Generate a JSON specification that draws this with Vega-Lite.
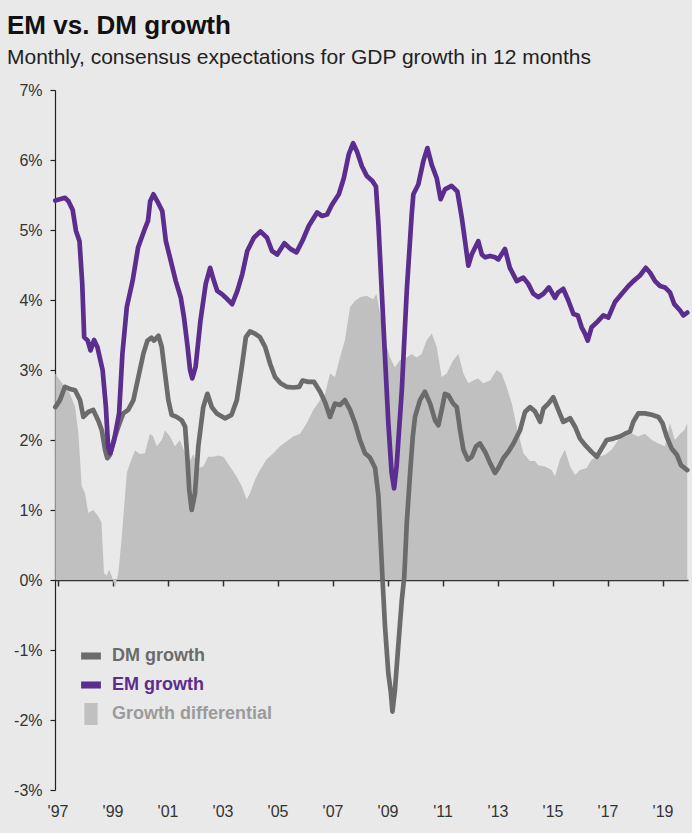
{
 "$schema": "https://vega.github.io/schema/vega-lite/v6.json",
 "width": 633, "height": 700,
 "autosize": {"type": "none"},
 "padding": {"left": 55, "top": 90, "right": 4, "bottom": 43},
 "background": "#e9e9e9",
 "config": {"view": {"stroke": null}, "font": "Liberation Sans"},
 "title": {"text": "EM vs. DM growth", "subtitle": "Monthly, consensus expectations for GDP growth in 12 months", "anchor": "start", "frame": "group", "dx": -48, "fontSize": 26, "fontWeight": "bold", "color": "#111111", "subtitleFontSize": 21, "subtitleColor": "#222222", "subtitlePadding": 8, "offset": 14, "font": "Liberation Sans", "subtitleFont": "Liberation Sans"},
 "datasets": {
  "em": [
   {"t":1996.92,"v":5.42},{"t":1997.27,"v":5.46},{"t":1997.40,"v":5.41},{"t":1997.55,"v":5.29},{"t":1997.67,"v":4.99},{"t":1997.80,"v":4.84},{"t":1997.90,"v":4.23},{"t":1997.97,"v":3.47},{"t":1998.10,"v":3.42},{"t":1998.20,"v":3.28},{"t":1998.33,"v":3.43},{"t":1998.45,"v":3.33},{"t":1998.64,"v":3.00},{"t":1998.76,"v":2.47},{"t":1998.84,"v":1.90},{"t":1998.92,"v":1.81},{"t":1999.06,"v":2.00},{"t":1999.24,"v":2.38},{"t":1999.36,"v":3.23},{"t":1999.52,"v":3.90},{"t":1999.73,"v":4.27},{"t":1999.93,"v":4.75},{"t":2000.15,"v":4.99},{"t":2000.29,"v":5.13},{"t":2000.37,"v":5.41},{"t":2000.49,"v":5.51},{"t":2000.63,"v":5.41},{"t":2000.81,"v":5.27},{"t":2000.94,"v":4.84},{"t":2001.12,"v":4.56},{"t":2001.30,"v":4.27},{"t":2001.48,"v":4.04},{"t":2001.60,"v":3.75},{"t":2001.73,"v":3.33},{"t":2001.82,"v":3.00},{"t":2001.90,"v":2.88},{"t":2002.02,"v":3.04},{"t":2002.20,"v":3.71},{"t":2002.39,"v":4.23},{"t":2002.55,"v":4.46},{"t":2002.69,"v":4.27},{"t":2002.81,"v":4.13},{"t":2002.99,"v":4.08},{"t":2003.10,"v":4.04},{"t":2003.35,"v":3.94},{"t":2003.54,"v":4.13},{"t":2003.72,"v":4.37},{"t":2003.90,"v":4.70},{"t":2004.14,"v":4.89},{"t":2004.38,"v":4.98},{"t":2004.62,"v":4.89},{"t":2004.80,"v":4.70},{"t":2004.99,"v":4.65},{"t":2005.25,"v":4.81},{"t":2005.47,"v":4.73},{"t":2005.69,"v":4.68},{"t":2005.90,"v":4.84},{"t":2006.14,"v":5.06},{"t":2006.44,"v":5.25},{"t":2006.62,"v":5.20},{"t":2006.80,"v":5.22},{"t":2006.98,"v":5.36},{"t":2007.23,"v":5.51},{"t":2007.41,"v":5.74},{"t":2007.59,"v":6.08},{"t":2007.75,"v":6.24},{"t":2007.89,"v":6.12},{"t":2008.07,"v":5.91},{"t":2008.25,"v":5.77},{"t":2008.45,"v":5.70},{"t":2008.58,"v":5.62},{"t":2008.67,"v":5.08},{"t":2008.79,"v":4.13},{"t":2008.91,"v":3.18},{"t":2009.03,"v":2.24},{"t":2009.15,"v":1.53},{"t":2009.24,"v":1.31},{"t":2009.33,"v":1.62},{"t":2009.52,"v":2.71},{"t":2009.70,"v":4.13},{"t":2009.88,"v":5.22},{"t":2009.94,"v":5.51},{"t":2010.12,"v":5.65},{"t":2010.30,"v":5.98},{"t":2010.45,"v":6.17},{"t":2010.61,"v":5.93},{"t":2010.79,"v":5.74},{"t":2010.93,"v":5.44},{"t":2011.09,"v":5.58},{"t":2011.33,"v":5.63},{"t":2011.54,"v":5.55},{"t":2011.70,"v":5.18},{"t":2011.82,"v":4.84},{"t":2011.94,"v":4.49},{"t":2012.06,"v":4.65},{"t":2012.30,"v":4.84},{"t":2012.43,"v":4.65},{"t":2012.55,"v":4.61},{"t":2012.73,"v":4.63},{"t":2012.91,"v":4.61},{"t":2013.03,"v":4.58},{"t":2013.27,"v":4.73},{"t":2013.45,"v":4.46},{"t":2013.70,"v":4.27},{"t":2013.94,"v":4.32},{"t":2014.12,"v":4.23},{"t":2014.30,"v":4.09},{"t":2014.48,"v":4.04},{"t":2014.67,"v":4.09},{"t":2014.87,"v":4.18},{"t":2015.09,"v":4.03},{"t":2015.21,"v":4.11},{"t":2015.39,"v":4.16},{"t":2015.58,"v":3.99},{"t":2015.76,"v":3.80},{"t":2015.92,"v":3.78},{"t":2016.06,"v":3.61},{"t":2016.18,"v":3.52},{"t":2016.28,"v":3.42},{"t":2016.42,"v":3.61},{"t":2016.61,"v":3.68},{"t":2016.85,"v":3.78},{"t":2017.03,"v":3.75},{"t":2017.27,"v":3.97},{"t":2017.52,"v":4.09},{"t":2017.76,"v":4.20},{"t":2017.94,"v":4.27},{"t":2018.18,"v":4.35},{"t":2018.39,"v":4.46},{"t":2018.55,"v":4.39},{"t":2018.73,"v":4.27},{"t":2018.91,"v":4.20},{"t":2019.09,"v":4.18},{"t":2019.27,"v":4.11},{"t":2019.43,"v":3.94},{"t":2019.64,"v":3.85},{"t":2019.76,"v":3.78},{"t":2019.90,"v":3.82}
  ],
  "dm": [
   {"t":1996.92,"v":2.47},{"t":1997.09,"v":2.57},{"t":1997.27,"v":2.76},{"t":1997.45,"v":2.73},{"t":1997.64,"v":2.71},{"t":1997.82,"v":2.57},{"t":1997.94,"v":2.33},{"t":1998.12,"v":2.40},{"t":1998.30,"v":2.43},{"t":1998.48,"v":2.28},{"t":1998.61,"v":2.14},{"t":1998.73,"v":1.86},{"t":1998.81,"v":1.74},{"t":1998.91,"v":1.79},{"t":1999.05,"v":2.00},{"t":1999.21,"v":2.19},{"t":1999.39,"v":2.38},{"t":1999.57,"v":2.43},{"t":1999.76,"v":2.57},{"t":1999.94,"v":2.90},{"t":2000.12,"v":3.23},{"t":2000.27,"v":3.42},{"t":2000.42,"v":3.46},{"t":2000.51,"v":3.42},{"t":2000.67,"v":3.49},{"t":2000.79,"v":3.33},{"t":2000.91,"v":2.95},{"t":2001.03,"v":2.57},{"t":2001.15,"v":2.36},{"t":2001.33,"v":2.33},{"t":2001.52,"v":2.28},{"t":2001.64,"v":2.19},{"t":2001.72,"v":1.76},{"t":2001.79,"v":1.29},{"t":2001.88,"v":1.00},{"t":2002.00,"v":1.24},{"t":2002.12,"v":1.91},{"t":2002.30,"v":2.47},{"t":2002.45,"v":2.66},{"t":2002.61,"v":2.47},{"t":2002.79,"v":2.38},{"t":2003.09,"v":2.31},{"t":2003.33,"v":2.36},{"t":2003.52,"v":2.57},{"t":2003.70,"v":3.04},{"t":2003.85,"v":3.47},{"t":2004.00,"v":3.55},{"t":2004.18,"v":3.52},{"t":2004.36,"v":3.47},{"t":2004.55,"v":3.33},{"t":2004.73,"v":3.09},{"t":2004.91,"v":2.90},{"t":2005.11,"v":2.81},{"t":2005.33,"v":2.76},{"t":2005.57,"v":2.75},{"t":2005.79,"v":2.76},{"t":2005.91,"v":2.85},{"t":2006.12,"v":2.83},{"t":2006.33,"v":2.83},{"t":2006.55,"v":2.69},{"t":2006.73,"v":2.54},{"t":2006.91,"v":2.33},{"t":2007.09,"v":2.52},{"t":2007.27,"v":2.50},{"t":2007.45,"v":2.57},{"t":2007.64,"v":2.43},{"t":2007.82,"v":2.24},{"t":2008.00,"v":2.00},{"t":2008.18,"v":1.81},{"t":2008.36,"v":1.75},{"t":2008.55,"v":1.60},{"t":2008.67,"v":1.20},{"t":2008.75,"v":0.57},{"t":2008.82,"v":0.00},{"t":2008.91,"v":-0.67},{"t":2009.03,"v":-1.33},{"t":2009.12,"v":-1.60},{"t":2009.18,"v":-1.88},{"t":2009.27,"v":-1.57},{"t":2009.39,"v":-0.95},{"t":2009.52,"v":-0.29},{"t":2009.61,"v":0.05},{"t":2009.70,"v":0.81},{"t":2009.82,"v":1.52},{"t":2009.92,"v":2.05},{"t":2010.00,"v":2.33},{"t":2010.18,"v":2.57},{"t":2010.36,"v":2.69},{"t":2010.55,"v":2.52},{"t":2010.73,"v":2.28},{"t":2010.85,"v":2.21},{"t":2010.97,"v":2.43},{"t":2011.09,"v":2.66},{"t":2011.21,"v":2.64},{"t":2011.39,"v":2.52},{"t":2011.52,"v":2.47},{"t":2011.64,"v":2.14},{"t":2011.76,"v":1.86},{"t":2011.92,"v":1.72},{"t":2012.06,"v":1.76},{"t":2012.22,"v":1.91},{"t":2012.36,"v":1.95},{"t":2012.55,"v":1.83},{"t":2012.73,"v":1.67},{"t":2012.91,"v":1.53},{"t":2013.03,"v":1.60},{"t":2013.21,"v":1.74},{"t":2013.39,"v":1.83},{"t":2013.58,"v":1.95},{"t":2013.82,"v":2.14},{"t":2014.00,"v":2.40},{"t":2014.18,"v":2.47},{"t":2014.36,"v":2.41},{"t":2014.55,"v":2.26},{"t":2014.67,"v":2.45},{"t":2014.85,"v":2.52},{"t":2015.03,"v":2.61},{"t":2015.21,"v":2.43},{"t":2015.39,"v":2.26},{"t":2015.64,"v":2.31},{"t":2015.82,"v":2.19},{"t":2016.00,"v":2.02},{"t":2016.18,"v":1.93},{"t":2016.42,"v":1.83},{"t":2016.61,"v":1.76},{"t":2016.79,"v":1.88},{"t":2016.97,"v":2.00},{"t":2017.21,"v":2.02},{"t":2017.45,"v":2.05},{"t":2017.64,"v":2.09},{"t":2017.82,"v":2.12},{"t":2017.94,"v":2.26},{"t":2018.12,"v":2.38},{"t":2018.36,"v":2.38},{"t":2018.61,"v":2.36},{"t":2018.85,"v":2.33},{"t":2019.00,"v":2.24},{"t":2019.15,"v":2.05},{"t":2019.33,"v":1.88},{"t":2019.52,"v":1.79},{"t":2019.67,"v":1.64},{"t":2019.90,"v":1.57}
  ],
  "diff": [
   {"t":1996.92,"v":2.95},{"t":1997.09,"v":2.85},{"t":1997.27,"v":2.76},{"t":1997.45,"v":2.66},{"t":1997.64,"v":2.47},{"t":1997.76,"v":2.09},{"t":1997.88,"v":1.34},{"t":1998.00,"v":1.24},{"t":1998.12,"v":0.96},{"t":1998.30,"v":1.00},{"t":1998.48,"v":0.91},{"t":1998.60,"v":0.82},{"t":1998.69,"v":0.10},{"t":1998.79,"v":0.06},{"t":1998.88,"v":0.15},{"t":1998.97,"v":0.06},{"t":1999.09,"v":-0.11},{"t":1999.21,"v":0.10},{"t":1999.33,"v":0.58},{"t":1999.52,"v":1.53},{"t":1999.64,"v":1.67},{"t":1999.82,"v":1.85},{"t":2000.00,"v":1.80},{"t":2000.18,"v":1.81},{"t":2000.36,"v":2.09},{"t":2000.48,"v":2.05},{"t":2000.61,"v":1.91},{"t":2000.79,"v":2.00},{"t":2000.91,"v":2.14},{"t":2001.09,"v":2.05},{"t":2001.27,"v":1.91},{"t":2001.45,"v":2.00},{"t":2001.64,"v":1.81},{"t":2001.82,"v":1.70},{"t":2001.94,"v":1.80},{"t":2002.12,"v":1.60},{"t":2002.30,"v":1.62},{"t":2002.48,"v":1.76},{"t":2002.67,"v":1.76},{"t":2002.85,"v":1.78},{"t":2003.03,"v":1.76},{"t":2003.27,"v":1.62},{"t":2003.51,"v":1.48},{"t":2003.70,"v":1.34},{"t":2003.88,"v":1.15},{"t":2004.00,"v":1.24},{"t":2004.18,"v":1.43},{"t":2004.36,"v":1.57},{"t":2004.60,"v":1.72},{"t":2004.85,"v":1.81},{"t":2005.09,"v":1.91},{"t":2005.33,"v":1.98},{"t":2005.57,"v":2.05},{"t":2005.82,"v":2.09},{"t":2006.06,"v":2.24},{"t":2006.30,"v":2.43},{"t":2006.55,"v":2.57},{"t":2006.73,"v":2.66},{"t":2006.91,"v":2.95},{"t":2007.09,"v":2.90},{"t":2007.27,"v":3.18},{"t":2007.45,"v":3.42},{"t":2007.64,"v":3.90},{"t":2007.82,"v":3.99},{"t":2008.00,"v":4.04},{"t":2008.24,"v":4.06},{"t":2008.48,"v":4.01},{"t":2008.60,"v":4.09},{"t":2008.73,"v":3.80},{"t":2008.91,"v":3.42},{"t":2009.09,"v":3.18},{"t":2009.27,"v":3.04},{"t":2009.45,"v":3.14},{"t":2009.70,"v":3.18},{"t":2009.88,"v":3.23},{"t":2010.06,"v":3.18},{"t":2010.24,"v":3.23},{"t":2010.42,"v":3.42},{"t":2010.61,"v":3.52},{"t":2010.79,"v":3.33},{"t":2010.97,"v":2.90},{"t":2011.15,"v":2.95},{"t":2011.39,"v":3.14},{"t":2011.58,"v":3.23},{"t":2011.76,"v":2.95},{"t":2011.94,"v":2.81},{"t":2012.12,"v":2.85},{"t":2012.30,"v":2.88},{"t":2012.48,"v":2.81},{"t":2012.73,"v":2.85},{"t":2012.97,"v":3.00},{"t":2013.15,"v":2.95},{"t":2013.33,"v":2.76},{"t":2013.52,"v":2.52},{"t":2013.70,"v":2.19},{"t":2013.94,"v":1.81},{"t":2014.18,"v":1.70},{"t":2014.36,"v":1.70},{"t":2014.48,"v":1.64},{"t":2014.73,"v":1.62},{"t":2014.97,"v":1.57},{"t":2015.09,"v":1.48},{"t":2015.27,"v":1.72},{"t":2015.45,"v":1.86},{"t":2015.64,"v":1.62},{"t":2015.82,"v":1.50},{"t":2016.00,"v":1.57},{"t":2016.24,"v":1.60},{"t":2016.42,"v":1.72},{"t":2016.67,"v":1.76},{"t":2016.91,"v":1.79},{"t":2017.15,"v":1.86},{"t":2017.39,"v":2.00},{"t":2017.64,"v":2.05},{"t":2017.88,"v":2.09},{"t":2018.12,"v":2.05},{"t":2018.36,"v":2.09},{"t":2018.61,"v":2.00},{"t":2018.85,"v":1.95},{"t":2019.09,"v":1.91},{"t":2019.27,"v":2.24},{"t":2019.45,"v":2.00},{"t":2019.64,"v":2.09},{"t":2019.79,"v":2.14},{"t":2019.90,"v":2.24}
  ]
 },
 "layer": [
  {
   "data": {"name": "diff"},
   "mark": {"type": "area", "interpolate": "linear"},
   "encoding": {
    "x": {"field": "t", "type": "quantitative",
      "scale": {"domain": [1996.909, 2019.927], "nice": false, "zero": false},
      "axis": {"values": [1997,1999,2001,2003,2005,2007,2009,2011,2013,2015,2017,2019], "labelExpr": "\"'\" + substring(toString(datum.value), 2, 4)", "offset": -210, "tickSize": 6, "tickWidth": 1.5, "tickColor": "#333333", "domainColor": "#333333", "domainWidth": 1.5, "labelPadding": 217, "labelFontSize": 16, "labelColor": "#333333", "labelFlush": false, "labelOverlap": false, "labelBound": false, "grid": false, "title": null}},
    "y": {"field": "v", "type": "quantitative",
      "scale": {"domain": [-3, 7], "nice": false, "zero": false},
      "axis": {"values": [-3,-2,-1,0,1,2,3,4,5,6,7], "labelExpr": "datum.value + '%'", "tickSize": 5, "tickWidth": 1.2, "tickColor": "#222222", "domainColor": "#222222", "domainWidth": 1.2, "labelPadding": 8, "labelFontSize": 16, "labelColor": "#333333", "labelFlush": false, "grid": false, "title": null}},
    "color": {"datum": "Growth differential", "type": "nominal",
      "scale": {"domain": ["DM growth", "EM growth", "Growth differential"], "range": ["#6b6b6b", "#5b2d8e", "#c0c0c0"]},
      "legend": {"orient": "none", "legendX": 25, "legendY": 555, "title": null, "padding": 0, "symbolSize": 484, "rowPadding": 9, "labelOffset": 10, "labelLimit": 400, "labelFontSize": 18, "labelFontWeight": "bold", "labelFont": "Liberation Sans",
        "encode": {
          "symbols": {"update": {
            "shape": {"signal": "datum.value === 'Growth differential' ? 'M-0.6,-1L0.6,-1L0.6,1L-0.6,1Z' : 'M-0.9,-0.32L0.9,-0.32L0.9,0.32L-0.9,0.32Z'"},
            "fill": {"signal": "datum.value === 'DM growth' ? '#6b6b6b' : datum.value === 'EM growth' ? '#5b2d8e' : '#a9a9a9'"},
            "stroke": {"value": "transparent"}, "strokeWidth": {"value": 0}, "opacity": {"value": 1}, "fillOpacity": {"value": 1}}},
          "labels": {"update": {
            "fill": {"signal": "datum.value === 'DM growth' ? '#6b6b6b' : datum.value === 'EM growth' ? '#5b2d8e' : '#9b9b9b'"}}}
        }}}
   }
  },
  {
   "data": {"name": "dm"},
   "mark": {"type": "line", "strokeWidth": 4.7, "strokeJoin": "round", "strokeCap": "round"},
   "encoding": {
    "x": {"field": "t", "type": "quantitative"},
    "y": {"field": "v", "type": "quantitative"},
    "color": {"datum": "DM growth", "type": "nominal"}
   }
  },
  {
   "data": {"name": "em"},
   "mark": {"type": "line", "strokeWidth": 4.7, "strokeJoin": "round", "strokeCap": "round"},
   "encoding": {
    "x": {"field": "t", "type": "quantitative"},
    "y": {"field": "v", "type": "quantitative"},
    "color": {"datum": "EM growth", "type": "nominal"}
   }
  }
 ]
}
